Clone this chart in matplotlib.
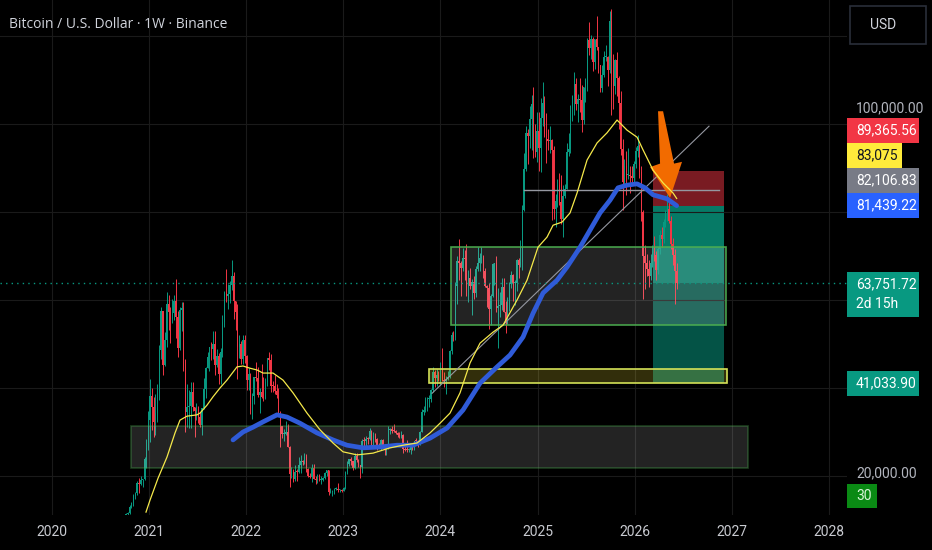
import numpy as np
import pandas as pd
import matplotlib
matplotlib.use('Agg')
import matplotlib.pyplot as plt
from matplotlib.patches import Rectangle, Polygon

# weekly BTC candles in USD thousands, one per week starting Monday 2020-10-05
# open of each week = close of the week before
first_open = 10.67
close_ = [
    11.38, 11.50, 13.03, 13.80, 15.48, 16.05, 18.41, 18.18, 19.16, 19.27, 23.84, 26.28, 32.78,  # 2020
    38.15, 35.79, 32.26, 34.26, 38.90, 48.58, 57.49, 45.14, 50.97, 59.02, 57.35, 55.78, 57.06,
    59.77, 56.25, 49.00, 57.80, 58.24, 46.43, 34.66, 35.68, 35.80, 39.10, 35.60, 34.70, 35.30,
    33.50, 31.53, 35.40, 39.85, 44.60, 47.00, 49.30, 48.80, 49.90, 45.20, 47.30, 43.20, 48.20,
    54.95, 61.55, 61.00, 61.30, 63.30, 65.50, 59.70, 57.30, 49.40, 50.10, 46.70, 50.80, 47.30,  # 2021
    41.85, 43.10, 36.30, 38.20, 42.40, 42.20, 38.40, 39.10, 38.00, 37.80, 41.30, 46.80, 46.40,
    40.50, 40.40, 39.40, 38.50, 34.30, 31.30, 29.45, 29.45, 29.90, 26.60, 20.55, 21.00, 19.30,
    20.85, 20.80, 22.60, 23.30, 23.20, 24.40, 21.50, 20.00, 19.80, 21.80, 19.40, 19.00, 19.30,
    19.10, 19.20, 19.60, 20.60, 21.30, 16.30, 16.30, 16.50, 17.10, 17.10, 16.80, 16.80, 16.60,  # 2022
    17.20, 20.90, 22.70, 23.80, 23.30, 21.80, 24.60, 23.60, 22.40, 22.10, 28.00, 27.90, 28.45,
    28.30, 30.30, 27.60, 29.20, 28.40, 26.90, 26.70, 28.10, 27.10, 25.90, 26.30, 30.50, 30.60,
    30.30, 30.20, 29.80, 29.30, 29.10, 29.40, 26.10, 26.00, 25.80, 25.80, 26.50, 26.30, 28.00,
    27.90, 27.20, 30.00, 34.50, 35.00, 37.10, 37.40, 37.50, 39.50, 43.70, 42.20, 43.00, 42.30,  # 2023
    43.90, 41.70, 41.60, 42.00, 42.60, 48.30, 52.10, 51.70, 63.10, 68.90, 68.40, 67.20, 69.60,
    69.40, 63.40, 64.90, 63.10, 64.00, 61.50, 67.00, 68.50, 69.60, 69.60, 66.60, 63.20, 62.70,
    58.00, 60.80, 68.10, 68.30, 58.10, 58.70, 58.90, 62.90, 57.30, 54.80, 59.90, 63.60, 65.60,
    63.90, 63.90, 69.00, 68.00, 68.70, 80.40, 89.80, 97.90, 97.20, 101.20, 104.50, 95.20, 93.70,
    98.30,  # 2024
    94.50, 101.30, 104.70, 97.70, 96.50, 96.10, 96.30, 94.20, 80.70, 82.60, 86.10, 82.30, 78.40,
    83.70, 85.20, 93.70, 94.30, 104.10, 106.40, 109.00, 104.60, 105.70, 105.50, 100.90, 108.40,
    109.20, 119.10, 117.30, 119.40, 114.20, 119.30, 117.40, 113.50, 108.20, 111.10, 115.30,
    115.30, 112.20, 123.50, 115.10, 108.60, 114.50, 110.50, 104.70, 94.30, 86.80, 90.40, 88.40,
    88.50, 88.10, 87.80, 91.00,  # 2025
    93.80, 95.00, 89.20, 80.00, 70.00, 68.50, 67.00, 65.50, 68.50, 71.20, 70.30, 66.80, 71.50,
    74.80, 73.80, 77.80, 79.20, 80.60, 78.00, 72.80, 70.20, 66.50, 63.75172,  # 2026
]
high_ = [
    11.49, 11.72, 13.35, 14.09, 15.97, 16.48, 18.82, 19.49, 19.92, 19.42, 24.30, 28.40, 34.80,
    41.95, 40.10, 37.85, 38.53, 40.96, 49.72, 58.35, 57.55, 52.64, 61.74, 61.18, 58.40, 60.20,
    61.20, 64.85, 57.50, 58.45, 59.60, 59.50, 46.69, 40.90, 39.50, 41.35, 41.30, 35.75, 36.60,
    35.95, 34.50, 35.40, 42.30, 44.70, 48.15, 49.40, 50.50, 52.95, 52.90, 48.85, 47.95, 49.00,
    56.55, 62.00, 67.00, 63.70, 64.27, 69.00, 66.30, 59.80, 59.10, 51.95, 50.60, 52.10, 52.10,
    47.50, 44.45, 43.50, 38.90, 42.60, 45.80, 44.75, 40.00, 45.40, 42.60, 42.35, 46.90, 48.20,
    47.70, 41.55, 42.98, 40.80, 40.00, 34.80, 31.45, 30.60, 32.40, 31.75, 26.90, 22.00, 21.55,
    22.40, 21.65, 24.30, 24.70, 23.65, 25.20, 25.10, 21.85, 20.60, 22.80, 22.70, 19.95, 20.35,
    20.45, 19.95, 19.70, 20.85, 21.45, 21.45, 17.20, 16.80, 17.35, 17.45, 18.40, 17.05, 16.95,
    17.40, 21.25, 23.35, 23.95, 24.25, 23.45, 25.25, 25.20, 23.90, 22.60, 28.40, 28.85, 29.20,
    28.80, 31.00, 30.40, 30.00, 29.80, 28.60, 27.50, 28.45, 28.40, 27.35, 26.80, 31.40, 31.00,
    31.40, 31.80, 30.40, 30.00, 29.95, 30.20, 29.50, 26.80, 28.15, 26.45, 26.90, 27.50, 28.05,
    28.60, 28.00, 30.30, 35.20, 35.95, 37.95, 37.95, 38.45, 39.70, 44.70, 44.00, 44.40, 43.80,
    45.90, 49.00, 43.55, 42.80, 43.85, 48.60, 52.80, 52.95, 64.00, 70.10, 73.80, 68.90, 71.75,
    71.30, 72.80, 66.90, 67.20, 64.70, 65.50, 67.70, 71.95, 70.60, 71.95, 70.20, 67.25, 63.40,
    63.80, 61.40, 68.40, 68.40, 70.00, 62.70, 61.80, 65.00, 64.95, 59.80, 60.65, 64.10, 66.50,
    65.80, 64.45, 69.40, 69.50, 73.60, 81.50, 93.50, 99.60, 98.90, 104.10, 106.50, 108.30, 99.90,
    102.70,
    102.70, 105.90, 109.60, 106.40, 102.50, 98.80, 99.50, 96.50, 95.00, 84.20, 87.40, 88.80, 88.50,
    86.10, 86.45, 95.75, 97.90, 104.30, 106.60, 111.90, 110.40, 106.80, 110.40, 108.90, 108.50,
    110.50, 119.50, 123.20, 120.20, 119.80, 119.30, 124.50, 117.60, 113.50, 113.40, 116.70,
    117.90, 115.40, 125.70, 126.20, 115.90, 114.80, 116.40, 110.90, 107.50, 96.60, 92.00, 93.90,
    94.60, 90.40, 90.40, 91.50,
    94.80, 97.50, 95.50, 90.50, 80.50, 72.50, 70.50, 69.00, 70.50, 72.50, 74.50, 71.20, 72.00,
    75.80, 76.50, 78.50, 80.50, 84.00, 82.50, 79.00, 74.00, 71.50, 68.50,
]
low_ = [
    10.53, 11.22, 11.42, 12.75, 13.20, 14.85, 15.79, 16.20, 18.00, 17.60, 19.00, 21.82, 25.98,
    27.73, 30.42, 28.85, 29.24, 32.30, 37.35, 46.65, 43.00, 45.00, 49.27, 53.27, 50.30, 54.70,
    55.47, 51.30, 47.05, 48.75, 52.90, 43.80, 30.00, 31.25, 31.00, 31.00, 34.80, 28.80, 32.70,
    32.10, 31.10, 29.28, 35.25, 37.70, 44.50, 43.95, 46.30, 46.50, 42.85, 44.75, 40.80, 40.80,
    47.15, 53.80, 59.50, 58.00, 59.40, 62.30, 55.70, 53.25, 42.00, 46.80, 45.50, 45.55, 45.70,
    39.65, 39.55, 34.00, 32.95, 36.30, 41.70, 38.00, 34.30, 37.70, 37.15, 37.55, 40.50, 44.20,
    39.20, 39.20, 38.55, 37.70, 33.70, 26.70, 28.65, 28.00, 29.30, 26.55, 17.60, 19.60, 18.65,
    18.95, 18.90, 20.75, 20.70, 22.40, 22.65, 20.80, 19.80, 19.50, 18.55, 19.35, 18.15, 18.50,
    18.95, 18.20, 18.90, 19.25, 20.05, 15.60, 16.20, 15.50, 16.00, 16.75, 16.30, 16.40, 16.33,
    16.50, 17.15, 20.40, 22.30, 22.50, 21.45, 21.50, 23.10, 21.95, 19.55, 20.60, 26.60, 26.50,
    27.20, 28.20, 27.10, 26.95, 27.70, 25.85, 26.35, 25.90, 26.55, 24.80, 24.75, 26.25, 29.55,
    29.70, 29.95, 29.50, 28.85, 28.60, 28.70, 25.20, 25.75, 25.35, 25.35, 24.90, 26.00, 26.00,
    27.25, 26.55, 27.00, 29.90, 33.90, 34.55, 34.80, 35.65, 36.90, 39.20, 40.20, 40.55, 41.50,
    40.75, 41.50, 40.25, 38.55, 41.90, 42.25, 47.70, 50.60, 50.90, 59.00, 64.50, 60.80, 66.50,
    64.50, 60.90, 59.60, 62.40, 56.50, 60.20, 60.70, 66.60, 66.70, 68.50, 65.10, 62.90, 58.40,
    53.50, 54.30, 60.70, 63.45, 57.30, 49.00, 56.10, 57.80, 57.20, 52.55, 54.60, 57.50, 62.70,
    59.80, 58.90, 62.00, 65.05, 67.50, 66.80, 80.20, 89.40, 90.80, 94.50, 94.20, 92.20, 92.50,
    91.30,
    89.25, 89.10, 99.50, 97.00, 91.20, 94.10, 93.40, 78.20, 78.40, 76.60, 81.20, 81.60, 77.20,
    74.40, 83.10, 85.15, 92.80, 93.40, 100.70, 102.10, 103.10, 100.40, 102.70, 98.20, 100.00,
    105.10, 107.50, 115.70, 114.70, 112.00, 112.60, 116.80, 111.70, 107.30, 107.30, 110.60,
    114.40, 108.60, 111.60, 102.00, 103.50, 106.80, 106.30, 98.90, 93.00, 80.50, 86.00, 83.90,
    87.50, 84.40, 86.60, 86.90,
    89.90, 92.50, 87.80, 78.00, 60.20, 62.50, 65.50, 63.00, 64.50, 67.50, 68.80, 64.50, 65.80,
    70.50, 72.00, 73.00, 76.50, 78.00, 77.50, 71.50, 68.00, 59.00, 62.50,
]

# moving averages (year, USD thousands)
yellow_t = [2020.968, 2021.009, 2021.092, 2021.184, 2021.267, 2021.318, 2021.390, 2021.493, 2021.524,
            2021.596, 2021.658, 2021.730, 2021.802, 2021.905, 2021.967, 2022.039, 2022.111, 2022.173,
            2022.276, 2022.379, 2022.482, 2022.626, 2022.760, 2022.894, 2022.997, 2023.141, 2023.306,
            2023.481, 2023.615, 2023.759, 2023.893, 2023.996, 2024.099, 2024.202, 2024.305, 2024.408,
            2024.542, 2024.645, 2024.789, 2024.892, 2025.005, 2025.098, 2025.160, 2025.252, 2025.335,
            2025.407, 2025.510, 2025.613, 2025.716, 2025.819, 2025.922, 2026.025, 2026.087, 2026.190,
            2026.293, 2026.396, 2026.433]
yellow_p = [11.8, 14.5, 19.5, 24.3, 29.8, 32.7, 33.6, 33.9, 34.3,
            36.1, 38.0, 40.0, 41.8, 44.8, 45.0, 44.5, 44.1, 43.4,
            43.4, 41.8, 38.9, 34.3, 30.5, 27.5, 25.5, 24.8, 25.2,
            26.4, 27.0, 27.5, 29.8, 32.0, 34.3, 38.9, 45.7, 50.2,
            52.7, 54.3, 60.0, 64.5, 72.0, 74.3, 77.0, 77.7, 79.8,
            84.3, 91.8, 95.7, 98.0, 100.9, 98.6, 97.0, 94.1, 89.5,
            86.6, 84.3, 83.075]
blue_t = [2021.864, 2021.967, 2022.070, 2022.173, 2022.317, 2022.420, 2022.554, 2022.729, 2022.894,
          2023.038, 2023.203, 2023.378, 2023.553, 2023.718, 2023.893, 2024.068, 2024.233, 2024.408,
          2024.583, 2024.717, 2024.851, 2024.954, 2025.057, 2025.201, 2025.304, 2025.438, 2025.541,
          2025.644, 2025.747, 2025.829, 2025.922, 2026.025, 2026.107, 2026.190, 2026.334, 2026.433]
blue_p = [28.2, 30.0, 31.1, 32.3, 33.9, 33.4, 32.0, 29.8, 28.2,
          27.0, 26.4, 26.6, 27.0, 27.0, 28.6, 30.9, 35.0, 41.1,
          44.8, 47.5, 51.6, 57.0, 61.6, 64.5, 67.5, 72.0, 75.9,
          79.8, 82.7, 85.5, 86.1, 86.4, 85.5, 83.9, 83.0, 81.439]

# drawings on the chart: (t0, t1, p0, p1)
zone_low = (2020.814, 2027.168, 21.8, 31.4)
zone_mid = (2024.109, 2026.941, 54.3, 72.0)
zone_yellow = (2023.883, 2026.952, 41.034, 44.3)
pos_t = (2026.190, 2026.921)
stop, entry, target, last = 89.36556, 81.43922, 41.0339, 63.75172
diag = ([2023.914, 2026.766], [38.8, 99.5])
hline = ([2024.861, 2026.869], [85.0, 85.0])
arrow_t = [2026.241, 2026.293, 2026.406, 2026.488, 2026.365, 2026.159, 2026.262]
arrow_p = [102.9, 102.9, 91.0, 91.4, 83.2, 90.2, 91.0]

years = list(range(2020, 2029))

W, H = 932, 550
fig = plt.figure(figsize=(W / 100, H / 100), dpi=100, facecolor='black')
ax = fig.add_axes([0, 35 / H, 847 / W, 515 / H])
ax.set_facecolor('black')

dates = pd.date_range('2020-10-05', periods=len(close_), freq='W-MON')
t = dates.year.values + (dates.dayofyear.values - 1) / 365.25
c = np.array(close_)
o = np.concatenate([[first_open], c[:-1]])
hi = np.array(high_)
lo = np.array(low_)
up = c >= o
cols = np.where(up, '#089981', '#f23645')
wk = 1 / 52.18

# position tool (under candles)
ax.add_patch(Rectangle((pos_t[0], entry), pos_t[1] - pos_t[0], stop - entry,
                       facecolor='#f23645', alpha=0.5, lw=0, zorder=1))
ax.add_patch(Rectangle((pos_t[0], last), pos_t[1] - pos_t[0], entry - last,
                       facecolor='#089981', alpha=0.8, lw=0, zorder=1))
ax.add_patch(Rectangle((pos_t[0], target), pos_t[1] - pos_t[0], last - target,
                       facecolor='#089981', alpha=0.55, lw=0, zorder=1))

ax.vlines(t, lo, hi, colors=cols, lw=0.7, zorder=2)
body = np.maximum(np.abs(c - o), 0.25)
ax.bar(t, body, bottom=np.minimum(o, c), width=wk * 0.75, color=cols, lw=0, zorder=2)

# zones
for z, ea in [(zone_low, 0.35), (zone_mid, 0.9)]:
    ax.add_patch(Rectangle((z[0], z[2]), z[1] - z[0], z[3] - z[2], facecolor='white', alpha=0.14,
                           lw=0, zorder=3))
    ax.add_patch(Rectangle((z[0], z[2]), z[1] - z[0], z[3] - z[2], fill=False,
                           edgecolor='#4caf50', alpha=ea, lw=1.2, zorder=3))
z = zone_yellow
ax.add_patch(Rectangle((z[0], z[2]), z[1] - z[0], z[3] - z[2], facecolor='#ffeb3b', alpha=0.2,
                       lw=0, zorder=3))
ax.add_patch(Rectangle((z[0], z[2]), z[1] - z[0], z[3] - z[2], fill=False,
                       edgecolor='#d4e157', lw=1.2, zorder=3))

ax.plot(*diag, color='#9598a1', lw=0.8, zorder=3.5)
ax.plot(*hline, color='#9598a1', lw=1, zorder=3.5)
ax.axhline(last, color='#089981', lw=1, ls=(0, (1, 3)), zorder=3.5)

ax.plot(blue_t, blue_p, color='#2f5bd8', lw=3.4, solid_capstyle='round', zorder=4)
ax.add_patch(Polygon(list(zip(arrow_t, arrow_p)), closed=True, facecolor='#f26b00',
                     edgecolor='none', zorder=4.5))
ax.plot(yellow_t, yellow_p, color='#f5e94a', lw=0.9, zorder=5)

ax.set_xlim(2019.4645, 2028.187)
ax.set_ylim(11.14, 128.18)
ax.set_xticks(years)
ax.set_xticklabels([str(y) for y in years], family='Roboto', fontsize=10, color='#c8cad0')
ax.set_yticks([20, 40, 60, 80, 100, 120])
ax.tick_params(axis='x', length=0, pad=7)
ax.tick_params(axis='y', length=0, labelleft=False)
ax.grid(color='#1a1a1a', lw=0.8, zorder=0)
for s in ax.spines.values():
    s.set_visible(False)


def tag(top, bottom, right, color, text, fg='white', zorder=3):
    fig.add_artist(Rectangle((847 / W, 1 - bottom / H), (right - 847) / W, (bottom - top) / H,
                             transform=fig.transFigure, facecolor=color, edgecolor='none',
                             zorder=zorder))
    fig.text(856 / W, 1 - (top + bottom) / 2 / H, text, color=fg, va='center', ha='left',
             family='Roboto', fontsize=10, zorder=zorder + 0.5)


fig.text(856 / W, 1 - 108 / H, '100,000.00', color='#b2b5be', va='center', ha='left',
         family='Roboto', fontsize=10, zorder=1)
tag(118, 143, 919, '#f23645', '89,365.56')
tag(143, 168, 902, '#ffeb3b', '83,075', fg='#131722')
tag(168, 193, 919, '#787b86', '82,106.83')
tag(193, 218, 919, '#2962ff', '81,439.22')
tag(272, 317, 919, '#089981', '')
fig.text(856 / W, 1 - 284 / H, '63,751.72', color='white', va='center', family='Roboto', fontsize=10, zorder=4)
fig.text(856 / W, 1 - 304 / H, '2d 15h', color='white', va='center', family='Roboto', fontsize=10, zorder=4)
tag(371, 396, 919, '#089981', '41,033.90')
fig.text(856 / W, 1 - 473 / H, '20,000.00', color='#b2b5be', va='center', ha='left',
         family='Roboto', fontsize=10)
tag(484, 508, 877, '#0a8a14', '30', fg='#d8f5d8')

fig.add_artist(Rectangle((850 / W, 1 - 44 / H), 76 / W, 38 / H, transform=fig.transFigure,
                         facecolor='black', edgecolor='#2a2e39', lw=1.2))
fig.text(870 / W, 1 - 25 / H, 'USD', color='#d1d4dc', va='center', family='Roboto', fontsize=10)

fig.text(9 / W, 1 - 24 / H, 'Bitcoin / U.S. Dollar · 1W · Binance', color='#d1d4dc',
         va='center', ha='left', family='Open Sans', fontsize=10)

fig.savefig('out.png', dpi=100, facecolor='black')
